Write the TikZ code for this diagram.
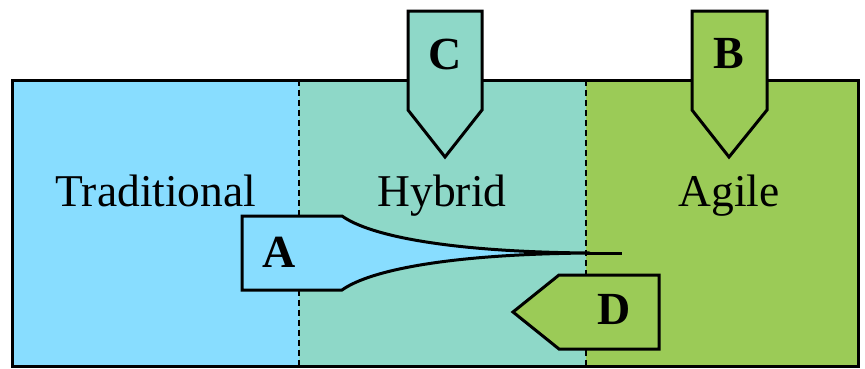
\documentclass[tikz,border=0pt]{standalone}
\usepackage{fontspec}
\setmainfont{Liberation Serif}
\definecolor{tradc}{HTML}{88DDFF}
\definecolor{hybc}{HTML}{8ED8C8}
\definecolor{agic}{HTML}{9BCB57}
\begin{document}
\begin{tikzpicture}[x=1pt,y=-1pt,
  divider/.style={line width=1.6pt,dash pattern=on 6pt off 4pt},
  shapeline/.style={draw=black,line width=3pt,line join=miter},
  zonetext/.style={font=\fontsize{45.5}{50}\selectfont,anchor=base},
  lettertext/.style={font=\fontsize{46}{50}\selectfont\bfseries,anchor=base}]
\useasboundingbox (0,0) rectangle (865,368);
% regions
\fill[tradc] (12,80) rectangle (299,366);
\fill[hybc] (299,80) rectangle (586,366);
\fill[agic] (586,80) rectangle (858,366);
\draw[divider] (299,80) -- (299,366);
\draw[divider] (586,80) -- (586,366);
\draw[line width=3pt] (12,80) rectangle (858,366);
% zone labels
\node[zonetext] (trad) at (156,206) {Traditional};
\node[zonetext] (hyb) at (442,206) {Hybrid};
\node[zonetext] (agi) at (729,206) {Agile};
% C arrow
\filldraw[shapeline,fill=hybc] (408,11) -- (482,11) -- (482,110) -- (445,157) -- (408,110) -- cycle;
\node[lettertext] (C) at (445,69) {C};
% B arrow
\filldraw[shapeline,fill=agic] (692,11) -- (767,11) -- (767,110) -- (729,157) -- (692,110) -- cycle;
\node[lettertext] (B) at (729,68) {B};
% A shape
\filldraw[shapeline,fill=tradc] (242,216) -- (342,216)
  .. controls (370,236) and (450,252) .. (590,253)
  .. controls (450,254) and (370,270) .. (342,290)
  -- (242,290) -- cycle;
\draw[line width=3pt] (586,253) -- (622,253);
\node[lettertext] (A) at (279,267) {A};
% D shape
\filldraw[shapeline,fill=agic] (659,275) -- (559,275) -- (513,312) -- (559,349) -- (659,349) -- cycle;
\node[lettertext] (D) at (614,324) {D};
\end{tikzpicture}
\end{document}
